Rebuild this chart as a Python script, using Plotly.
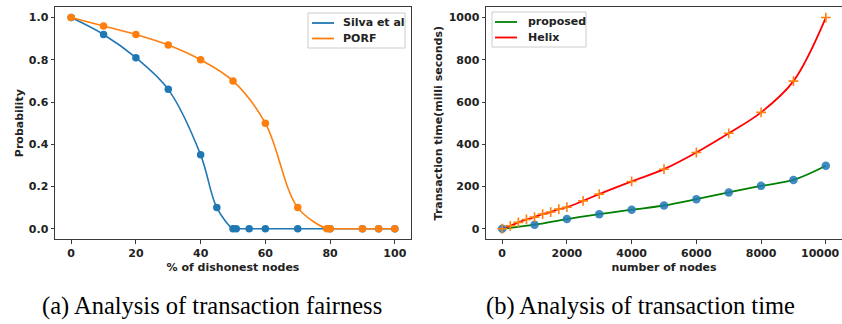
import plotly.graph_objects as go

# ---------------- data ----------------
# (a) transaction fairness
dishonest_silva = [0, 10, 20, 30, 40, 45, 50, 51, 55, 60, 70, 80, 90, 95, 100]
prob_silva = [1.0, 0.92, 0.81, 0.66, 0.35, 0.10, 0, 0, 0, 0, 0, 0, 0, 0, 0]
dishonest_porf = [0, 10, 20, 30, 40, 50, 60, 70, 79, 80, 90, 95, 100]
prob_porf = [1.0, 0.96, 0.92, 0.87, 0.80, 0.70, 0.50, 0.10, 0, 0, 0, 0, 0]

# (b) transaction time
nodes_prop = [0, 1000, 2000, 3000, 4000, 5000, 6000, 7000, 8000, 9000, 10000]
time_prop = [0, 19, 46, 69, 90, 110, 140, 172, 203, 231, 298]
nodes_helix = [0, 250, 500, 750, 1000, 1250, 1500, 1750, 2000, 2500, 3000,
               4000, 5000, 6000, 7000, 8000, 9000, 10000]
time_helix = [0, 14, 30, 44, 55, 69, 79, 93, 102, 132, 164,
              224, 282, 361, 452, 551, 699, 1000]

left_ticks = [0, 20, 40, 60, 80, 100]
left_yticks = [0.0, 0.2, 0.4, 0.6, 0.8, 1.0]
left_yticklabels = ["0.0", "0.2", "0.4", "0.6", "0.8", "1.0"]
right_ticks = [0, 2000, 4000, 6000, 8000, 10000]
right_ticklabels = ["0", "2000", "4000", "6000", "8000", "10000"]
right_yticks = [0, 200, 400, 600, 800, 1000]

left_legend_names = ["Silva et al", "PORF"]
right_legend_names = ["proposed", "Helix"]
captions = ["(a) Analysis of transaction fairness", "(b) Analysis of transaction time"]

# ---------------- styling ----------------
W, H = 842, 324
C0, C1 = "#1f77b4", "#ff7f0e"
GREEN, RED = "#008000", "#ff0000"
TEXTC = "#222"
TICKFONT = dict(family="DejaVu Sans", size=11, color=TEXTC, weight="bold")
FRAME = "#3a3a3a"


def px_x(p):
    return p / W


def px_y(p):
    return 1 - p / H


fig = go.Figure()

# left panel
fig.add_trace(go.Scatter(x=dishonest_silva, y=prob_silva, mode="lines", line_shape="spline",
                         line=dict(color=C0, width=1.6, smoothing=1.0), name=left_legend_names[0],
                         showlegend=False, xaxis="x", yaxis="y"))
fig.add_trace(go.Scatter(x=dishonest_silva, y=prob_silva, mode="markers",
                         marker=dict(color=C0, size=7.5), showlegend=False,
                         xaxis="x", yaxis="y"))
fig.add_trace(go.Scatter(x=dishonest_porf, y=prob_porf, mode="lines", line_shape="spline",
                         line=dict(color=C1, width=1.6, smoothing=1.0), name=left_legend_names[1],
                         showlegend=False, xaxis="x", yaxis="y"))
fig.add_trace(go.Scatter(x=dishonest_porf, y=prob_porf, mode="markers",
                         marker=dict(color=C1, size=7.5), showlegend=False,
                         xaxis="x", yaxis="y"))

# right panel
fig.add_trace(go.Scatter(x=nodes_prop, y=time_prop, mode="lines", line_shape="spline",
                         line=dict(color=GREEN, width=1.8, smoothing=1.0), name=right_legend_names[0],
                         showlegend=False, xaxis="x2", yaxis="y2"))
fig.add_trace(go.Scatter(x=nodes_helix, y=time_helix, mode="lines", line_shape="spline",
                         line=dict(color=RED, width=1.8, smoothing=1.0), name=right_legend_names[1],
                         showlegend=False, xaxis="x2", yaxis="y2"))
fig.add_trace(go.Scatter(x=nodes_prop, y=time_prop, mode="markers",
                         marker=dict(color=C0, size=8.5, opacity=0.85), showlegend=False,
                         xaxis="x2", yaxis="y2"))
fig.add_trace(go.Scatter(x=nodes_helix, y=time_helix, mode="markers",
                         marker=dict(symbol="cross-thin", size=7, color=C1,
                                     line=dict(color=C1, width=1.6)),
                         showlegend=False, xaxis="x2", yaxis="y2"))

ydom = [px_y(239.3), px_y(7)]
axis_common = dict(showline=True, mirror=True, linecolor=FRAME, linewidth=1,
                   ticks="outside", ticklen=3.5, tickwidth=1, tickcolor=FRAME,
                   showgrid=False, zeroline=False, tickfont=TICKFONT, automargin=False)
title_font = dict(family="DejaVu Sans", size=11, color=TEXTC, weight="bold")

# the last right-hand x tick label sits at the page edge; plotly would drop it,
# so it is drawn as an annotation kept just inside the page
right_ticktext_axis = right_ticklabels[:-1] + [""]

fig.update_layout(
    width=W, height=H, margin=dict(l=0, r=0, t=0, b=0, autoexpand=False),
    paper_bgcolor="white", plot_bgcolor="white", showlegend=False,
    xaxis=dict(domain=[px_x(55), px_x(411)], range=[-5, 105], tickvals=left_ticks,
               title=dict(text="% of dishonest nodes", font=title_font, standoff=4),
               anchor="y", **axis_common),
    yaxis=dict(domain=ydom, range=[-0.05, 1.05], tickvals=left_yticks, ticktext=left_yticklabels,
               title=dict(text="Probability", font=title_font, standoff=2),
               anchor="x", **axis_common),
    xaxis2=dict(domain=[px_x(486), 1.0], range=[-500, 10500], tickvals=right_ticks,
                ticktext=right_ticktext_axis,
                title=dict(text="number of nodes", font=title_font, standoff=4),
                anchor="y2", **axis_common),
    yaxis2=dict(domain=ydom, range=[-50, 1050], tickvals=right_yticks,
                title=dict(text="Transaction time(milli seconds)", font=title_font, standoff=3),
                anchor="x2", **axis_common),
)
fig.add_annotation(text=right_ticklabels[-1], xref="paper", yref="paper", x=px_x(841),
                   y=px_y(253), xanchor="right", yanchor="middle", showarrow=False,
                   font=TICKFONT, borderpad=0)


# ---------------- legends (drawn as boxes + samples + labels) ----------------
def add_legend(box, rows, sample_x, text_x, names, colors):
    x0, y0, x1, y1 = box
    fig.add_shape(type="rect", xref="paper", yref="paper",
                  x0=px_x(x0), x1=px_x(x1), y0=px_y(y1), y1=px_y(y0),
                  line=dict(color="#cccccc", width=1), fillcolor="rgba(255,255,255,0.85)")
    for ry, name, col in zip(rows, names, colors):
        fig.add_shape(type="line", xref="paper", yref="paper",
                      x0=px_x(sample_x[0]), x1=px_x(sample_x[1]), y0=px_y(ry), y1=px_y(ry),
                      line=dict(color=col, width=1.8))
        fig.add_annotation(text=name, xref="paper", yref="paper", x=px_x(text_x), y=px_y(ry),
                           xanchor="left", yanchor="middle", showarrow=False,
                           font=dict(family="DejaVu Sans", size=11, color=TEXTC, weight="bold"))


add_legend((308, 13, 405, 48), (23, 38.5), (312, 334), 341, left_legend_names, [C0, C1])
add_legend((492, 12, 586, 47), (22, 37.5), (495, 517), 526, right_legend_names, [GREEN, RED])

cap_font = dict(family="Liberation Serif", size=24.5, color="black")
fig.add_annotation(text=captions[0], xref="paper", yref="paper", x=px_x(211.7), y=px_y(306),
                   xanchor="center", yanchor="middle", showarrow=False, font=cap_font)
fig.add_annotation(text=captions[1], xref="paper", yref="paper", x=px_x(640), y=px_y(306),
                   xanchor="center", yanchor="middle", showarrow=False, font=cap_font)

fig.write_html("out.html", config={"displayModeBar": False},
               post_script="document.body.style.margin='0';document.body.style.overflow='hidden';")
